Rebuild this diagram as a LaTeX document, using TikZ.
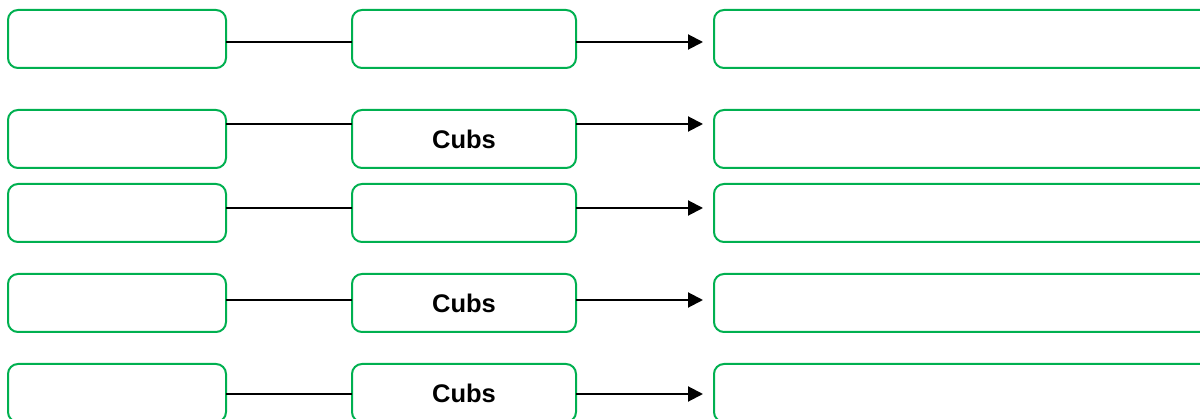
\documentclass[tikz,border=0pt]{standalone}
\usepackage{fontspec}
\setmainfont{Liberation Sans}
\usetikzlibrary{arrows.meta}
\definecolor{boxgreen}{HTML}{00B050}
\tikzset{
  box/.style={draw=boxgreen, line width=2pt, rounded corners=10pt, fill=white,
    minimum height=58pt, inner sep=0pt, outer sep=0pt, font=\bfseries\fontsize{25.5}{30}\selectfont},
  lbox/.style={box, minimum width=218pt},
  mbox/.style={box, minimum width=224pt},
  rbox/.style={box, minimum width=600pt},
  link/.style={line width=2pt, black},
  arr/.style={link, -{Triangle[length=15pt, width=15pt]}, shorten >=11pt}
}
\begin{document}
\begin{tikzpicture}[x=1pt, y=-1pt]
\useasboundingbox (0,0) rectangle (1200,419);
\clip (0,0) rectangle (1200,419);
% row 1
\node[lbox] (a1) at (117,39) {};
\node[mbox] (b1) at (464,39) {};
\node[rbox] (c1) at (1014,39) {};
% row 2
\node[lbox] (a2) at (117,139) {};
\node[mbox] (b2) at (464,139) {Cubs};
\node[rbox] (c2) at (1014,139) {};
% row 3
\node[lbox] (a3) at (117,213) {};
\node[mbox] (b3) at (464,213) {};
\node[rbox] (c3) at (1014,213) {};
% row 4
\node[lbox] (a4) at (117,303) {};
\node[mbox] (b4) at (464,303) {Cubs};
\node[rbox] (c4) at (1014,303) {};
% row 5
\node[lbox] (a5) at (117,393) {};
\node[mbox] (b5) at (464,393) {Cubs};
\node[rbox] (c5) at (1014,393) {};
% connectors
\draw[link] ([yshift=-3pt]a1.east) -- ([yshift=-3pt]b1.west);
\draw[arr]  ([yshift=-3pt]b1.east) -- ([yshift=-3pt]c1.west);
\draw[link] ([yshift=15pt]a2.east) -- ([yshift=15pt]b2.west);
\draw[arr]  ([yshift=15pt]b2.east) -- ([yshift=15pt]c2.west);
\draw[link] ([yshift=5pt]a3.east) -- ([yshift=5pt]b3.west);
\draw[arr]  ([yshift=5pt]b3.east) -- ([yshift=5pt]c3.west);
\draw[link] ([yshift=3pt]a4.east) -- ([yshift=3pt]b4.west);
\draw[arr]  ([yshift=3pt]b4.east) -- ([yshift=3pt]c4.west);
\draw[link] ([yshift=-1pt]a5.east) -- ([yshift=-1pt]b5.west);
\draw[arr]  ([yshift=-1pt]b5.east) -- ([yshift=-1pt]c5.west);
\end{tikzpicture}
\end{document}
